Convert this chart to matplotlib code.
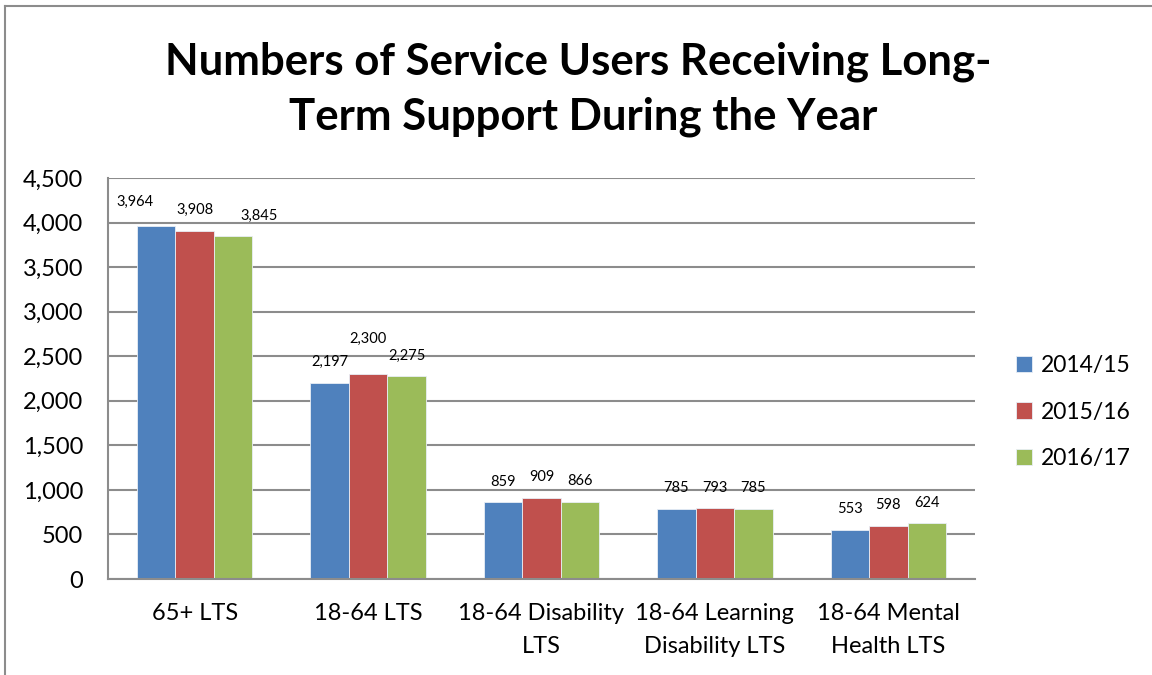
import numpy as np
import matplotlib.pyplot as plt
from matplotlib.lines import Line2D

plt.rcParams['font.family'] = ['Lato', 'DejaVu Sans']

categories = ["65+ LTS", "18-64 LTS", "18-64 Disability\nLTS",
              "18-64 Learning\nDisability LTS", "18-64 Mental\nHealth LTS"]
series_names = ["2014/15", "2015/16", "2016/17"]
values_2014 = [3964, 2197, 859, 785, 553]
values_2015 = [3908, 2300, 909, 793, 598]
values_2016 = [3845, 2275, 866, 785, 624]
colors = ["#4F81BD", "#C0504D", "#9BBB59"]

# label nudges (points) for labels moved by hand in the original: (series, category) -> (dx, dy)
label_nudge = {(0, 0): (-15, 2), (2, 0): (19, 0), (1, 1): (0, 10)}

W, H = 1152, 675
fig = plt.figure(figsize=(W / 100, H / 100), dpi=100)

# plot area in pixel coords
left, right, top, bottom = 108, 975, 178, 579
ax = fig.add_axes([left / W, 1 - bottom / H, (right - left) / W, (bottom - top) / H])

x = np.arange(len(categories))
bw = 0.222
all_vals = [values_2014, values_2015, values_2016]
for i, (vals, c, name) in enumerate(zip(all_vals, colors, series_names)):
    pos = x + (i - 1) * bw
    ax.bar(pos, vals, width=bw, color=c, edgecolor="#e8eef6", linewidth=0.6,
           label=name, zorder=3)
    for j, (p, v) in enumerate(zip(pos, vals)):
        dx, dy = label_nudge.get((i, j), (0, 0))
        ax.annotate(f"{v:,}", (p, v), xytext=(dx, 15 + dy), textcoords="offset points",
                    ha="center", va="center", fontsize=10.5)

ax.set_xlim(-0.5, len(categories) - 0.5)
ax.set_ylim(0, 4500)
ax.set_yticks(np.arange(0, 4501, 500))
ax.set_yticklabels([f"{v:,}" for v in range(0, 4501, 500)], fontsize=17)
ax.set_xticks(x)
ax.set_xticklabels(categories, fontsize=17, linespacing=1.75)
ax.tick_params(axis="y", length=0, pad=18)
ax.tick_params(axis="x", length=0, pad=17)
ax.yaxis.grid(True, color="#8c8c8c", linewidth=1.5, zorder=0)
ax.set_axisbelow(True)
for s in ["top", "right"]:
    ax.spines[s].set_visible(False)
for s in ["left", "bottom"]:
    ax.spines[s].set_color("#8c8c8c")
    ax.spines[s].set_linewidth(1.5)
    ax.spines[s].set_zorder(4)

fig.text(578 / W, 1 - 62 / H, "Numbers of Service Users Receiving Long-",
         ha="center", va="center", fontsize=31.5, fontweight="bold")
fig.text(583 / W, 1 - 117 / H, "Term Support During the Year",
         ha="center", va="center", fontsize=31.5, fontweight="bold")

leg = fig.legend(loc="center left", bbox_to_anchor=(995 / W, 1 - 412 / H),
                 frameon=False, fontsize=16.5, handlelength=0.7, handleheight=0.7,
                 handletextpad=0.4, labelspacing=1.1)

# outer chart frame
fig.add_artist(Line2D([5 / W, 1], [1 - 6 / H, 1 - 6 / H], color="#8c8c8c", lw=1.5))
fig.add_artist(Line2D([5 / W, 5 / W], [0, 1 - 6 / H], color="#8c8c8c", lw=1.5))

fig.savefig("out.png", dpi=100)
